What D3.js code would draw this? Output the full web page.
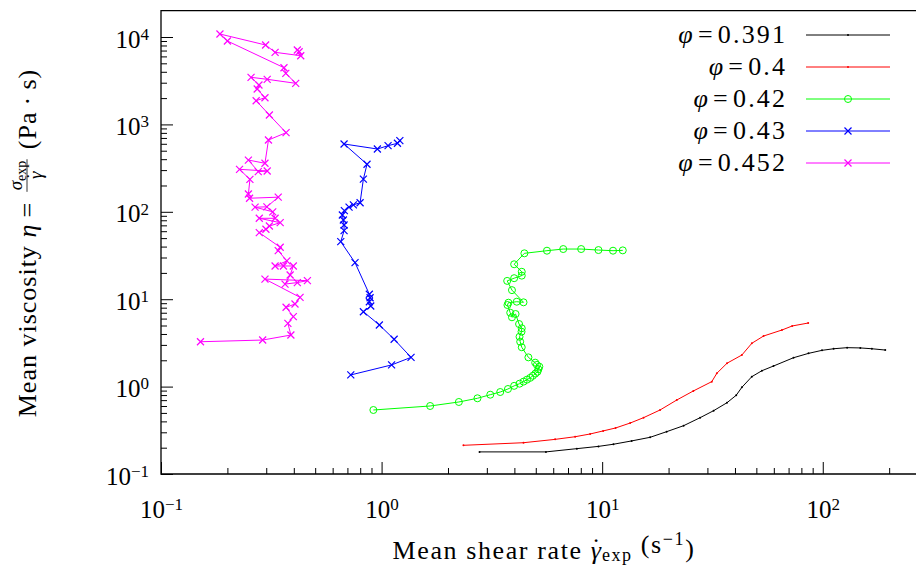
<!DOCTYPE html>
<html>
<head>
<meta charset="utf-8">
<script src="https://cdn.jsdelivr.net/npm/d3@7"></script>
<style>
  body { margin: 0; background: #fff; }
  svg { display: block; }
  svg text { font-family: "Liberation Serif", "DejaVu Serif", serif; }
</style>
</head>
<body>
<svg id="chart" width="916" height="566"></svg>
<script>
// ---- data (shear rate in 1/s, viscosity in Pa.s) ----
const rate391 = [2.78, 5.56, 7.68, 9.62, 11.25, 13.6, 16.5, 19.6, 23.4, 27.8, 32.0, 36.8, 40.5, 43.0, 47.7, 53.0, 59.8, 73.7, 86.2, 99.2, 112, 129, 148, 167, 192];
const visc391 = [0.179, 0.179, 0.195, 0.207, 0.219, 0.239, 0.263, 0.305, 0.357, 0.441, 0.530, 0.654, 0.795, 0.982, 1.30, 1.52, 1.72, 2.14, 2.40, 2.60, 2.71, 2.79, 2.77, 2.71, 2.62];

const rate40 = [2.35, 4.40, 6.12, 7.54, 8.82, 10.1, 11.5, 13.4, 15.4, 18.3, 21.8, 25.9, 31.4, 33.1, 36.8, 43.0, 47.7, 53.9, 65.3, 72.7, 85.9];
const visc40 = [0.213, 0.228, 0.249, 0.267, 0.287, 0.311, 0.336, 0.383, 0.441, 0.540, 0.703, 0.891, 1.14, 1.42, 1.85, 2.30, 3.13, 3.79, 4.44, 4.94, 5.34];

const rate42 = [0.918, 1.66, 2.24, 2.72, 3.11, 3.45, 3.74, 3.99, 4.22, 4.40, 4.56, 4.72, 4.85, 4.98, 5.09, 5.14, 5.19, 5.06, 4.97, 4.63, 4.32, 4.25, 4.22, 4.31, 4.32, 4.20, 4.05, 3.90, 3.83, 3.72, 3.76, 4.10, 4.40, 3.90, 3.71, 3.99, 4.32, 4.32, 3.99, 4.44, 5.62, 6.66, 8.03, 9.62, 11.2, 12.4];
const visc42 = [0.540, 0.600, 0.667, 0.735, 0.808, 0.867, 0.939, 1.02, 1.08, 1.14, 1.20, 1.26, 1.33, 1.41, 1.48, 1.58, 1.69, 1.77, 1.88, 2.16, 2.82, 3.26, 3.72, 4.25, 4.65, 5.20, 6.77, 6.21, 7.01, 8.58, 9.12, 9.36, 9.21, 12.7, 16.2, 17.4, 18.6, 20.6, 25.1, 33.5, 35.9, 37.5, 37.5, 36.5, 35.9, 36.2];

const rate43 = [0.725, 1.11, 1.36, 1.14, 0.977, 0.827, 0.893, 0.880, 0.887, 0.880, 0.758, 0.653, 0.676, 0.676, 0.671, 0.664, 0.678, 0.712, 0.745, 0.799, 0.827, 0.859, 0.676, 0.957, 1.07, 1.18, 1.21];
const visc43 = [1.36, 1.77, 2.16, 3.48, 5.07, 7.19, 8.36, 9.36, 10.4, 11.4, 26.2, 45.5, 60.8, 70.6, 80.6, 91.9, 103, 113, 120, 127, 237, 350, 597, 523, 571, 608, 651];

const rate452 = [0.151, 0.289, 0.388, 0.376, 0.398, 0.369, 0.405, 0.427, 0.296, 0.461, 0.415, 0.365, 0.385, 0.398, 0.359, 0.329, 0.372, 0.340, 0.347, 0.279, 0.299, 0.310, 0.347, 0.279, 0.329, 0.321, 0.267, 0.302, 0.340, 0.252, 0.249, 0.253, 0.227, 0.303, 0.276, 0.249, 0.296, 0.307, 0.369, 0.310, 0.270, 0.296, 0.273, 0.278, 0.256, 0.303, 0.408, 0.368, 0.361, 0.200, 0.185, 0.298, 0.329, 0.430, 0.423, 0.415];
const visc452 = [3.26, 3.41, 3.89, 5.30, 6.31, 8.08, 8.81, 10.5, 17.0, 16.3, 15.5, 14.9, 18.9, 24.0, 24.0, 24.0, 27.4, 35.9, 39.3, 57.7, 63.1, 68.8, 75.1, 84.3, 84.3, 100, 113, 114, 147, 143, 160, 235, 306, 293, 288, 391, 359, 663, 804, 1281, 1867, 2021, 2541, 2823, 3458, 3281, 2953, 3843, 4454, 9000, 10820, 8101, 6680, 6109, 6786, 7098];

const phiLabels = ["0.391", "0.4", "0.42", "0.43", "0.452"];
const seriesColors = ["#000000", "#ff0000", "#00ff00", "#0000ff", "#ff00ff"];
const seriesMarkers = ["dot", "dot", "circle", "cross", "cross"];

const xMajor = [0.1, 1, 10, 100];
const yMajor = [0.1, 1, 10, 100, 1000, 10000];

(function drawChart() {
  const svg = d3.select("#chart");
  const plotLeft = 161, plotTop = 10.7, plotBottom = 474, plotRight = 928;

  const x = d3.scaleLog().domain([0.1, 300]).range([plotLeft, plotRight]);
  const y = d3.scaleLog().domain([0.1, 2e4]).range([plotBottom, plotTop]);

  const series = [
    [rate391, visc391], [rate40, visc40], [rate42, visc42], [rate43, visc43], [rate452, visc452]
  ].map((s, i) => ({
    label: phiLabels[i],
    color: seriesColors[i],
    marker: seriesMarkers[i],
    points: s[0].map((r, j) => ({ x: r, y: s[1][j] }))
  }));

  function minorTicks(scale) {
    const [a, b] = scale.domain();
    const out = [];
    for (let e = Math.floor(Math.log10(a)); e <= Math.ceil(Math.log10(b)); e++) {
      for (let m = 2; m <= 9; m++) {
        const v = m * Math.pow(10, e);
        if (v > a && v < b) out.push(v);
      }
    }
    return out;
  }

  function powerLabel(sel) {
    sel.each(function(d) {
      const t = d3.select(this);
      const e = Math.round(Math.log10(d));
      t.text(null);
      t.append("tspan").text("10");
      t.append("tspan").attr("dy", "-0.45em").style("font-size", "17px")
        .text(e < 0 ? "\u2212" + (-e) : e);
    });
  }

  // axes: minor ticks first, then major ticks with labels
  const gx = svg.append("g").attr("transform", `translate(0,${plotBottom})`);
  gx.append("g").call(d3.axisBottom(x).tickValues(minorTicks(x)).tickSize(-6).tickFormat(""));
  const gxMajor = gx.append("g").call(d3.axisBottom(x).tickValues(xMajor).tickSize(-12));

  const gy = svg.append("g").attr("transform", `translate(${plotLeft},0)`);
  gy.append("g").call(d3.axisLeft(y).tickValues(minorTicks(y)).tickSize(-6).tickFormat(""));
  const gyMajor = gy.append("g").call(d3.axisLeft(y).tickValues(yMajor).tickSize(-12).tickPadding(12));

  svg.selectAll(".domain").remove();
  gx.select("g").selectAll("text").remove();
  gy.select("g").selectAll("text").remove();
  svg.selectAll("g").attr("font-family", null).attr("font-size", null);
  svg.selectAll(".tick line").attr("stroke", "#000").attr("stroke-width", 1);

  [gxMajor, gyMajor].forEach(g => g.selectAll(".tick text")
    .style("font-size", "25px")
    .style("font-family", "'Liberation Serif', serif")
    .attr("fill", "#000")
    .call(powerLabel));
  gxMajor.selectAll(".tick text").attr("y", 44).attr("dy", 0);
  gyMajor.selectAll(".tick text").attr("dy", "0.4em");

  // frame
  svg.append("path")
    .attr("d", `M${plotLeft},${plotBottom}V${plotTop}H${plotRight}V${plotBottom}Z`)
    .attr("fill", "none").attr("stroke", "#000").attr("stroke-width", 1.3);

  // series
  const line = d3.line().x(d => x(d.x)).y(d => y(d.y));
  const plot = svg.append("g");

  function drawMarker(g, type, color) {
    if (type === "circle") {
      g.append("circle").attr("r", 3.5).attr("fill", "none").attr("stroke", color).attr("stroke-width", 1);
    } else if (type === "cross") {
      g.append("path").attr("d", "M-3.5,-3.5L3.5,3.5M-3.5,3.5L3.5,-3.5")
        .attr("stroke", color).attr("stroke-width", 1.2).attr("fill", "none");
    } else {
      g.append("circle").attr("r", 1).attr("fill", color);
    }
  }

  series.forEach(s => {
    plot.append("path").datum(s.points)
      .attr("d", line).attr("fill", "none")
      .attr("stroke", s.color).attr("stroke-width", 1);
    plot.selectAll(null).data(s.points).enter().append("g")
      .attr("transform", d => `translate(${x(d.x)},${y(d.y)})`)
      .each(function() { drawMarker(d3.select(this), s.marker, s.color); });
  });

  // legend
  const legend = svg.append("g");
  series.forEach((s, i) => {
    const ry = 35 + i * 32;
    const t = legend.append("text").attr("x", 785).attr("y", ry + 8)
      .attr("text-anchor", "end").style("font-size", "26px");
    t.append("tspan").style("font-style", "italic").text("\u03c6");
    t.append("tspan").text("\u2009=\u2009" + s.label.split("").join("\u200a"));
    legend.append("line").attr("x1", 806).attr("x2", 890).attr("y1", ry).attr("y2", ry)
      .attr("stroke", s.color).attr("stroke-width", 1);
    const mg = legend.append("g").attr("transform", `translate(848,${ry})`);
    drawMarker(mg, s.marker, s.color);
  });

  // gamma with an overdot, as two tspans
  function gammaDot(t, size) {
    t.append("tspan").style("font-style", "italic").text("\u03b3");
    t.append("tspan").attr("dx", -0.42 * size).attr("dy", -0.12 * size).text("\u02d9");
    t.append("tspan").attr("dx", 0.1 * size).attr("dy", 0.12 * size).text("");
  }

  // x axis title
  const xt = svg.append("text").attr("x", 544).attr("y", 559)
    .attr("text-anchor", "middle").style("font-size", "26px").style("letter-spacing", "1.6px");
  xt.append("tspan").text("Mean shear rate ");
  gammaDot(xt, 26);
  xt.append("tspan").attr("dy", "0.3em").style("font-size", "18px").text("exp");
  xt.append("tspan").attr("dy", "-0.3em").text(" (s");
  xt.append("tspan").attr("dy", "-0.45em").style("font-size", "18px").text("\u22121");
  xt.append("tspan").attr("dy", "0.45em").text(")");

  // y axis title (rotated, with a fraction)
  const yg = svg.append("g");
  const t1 = yg.append("text").attr("x", 0).attr("y", 9)
    .style("font-size", "26px").style("letter-spacing", "1px");
  t1.append("tspan").text("Mean viscosity ");
  t1.append("tspan").style("font-style", "italic").text("\u03b7");
  t1.append("tspan").text("\u2009=");
  const w1 = t1.node().getComputedTextLength();

  const num = yg.append("text").attr("y", -5).attr("text-anchor", "middle").style("font-size", "19px");
  num.append("tspan").style("font-style", "italic").text("\u03c3");
  num.append("tspan").attr("dy", "0.3em").style("font-size", "14px").text("exp");
  const den = yg.append("text").attr("y", 15).attr("text-anchor", "middle").style("font-size", "19px");
  gammaDot(den, 19);
  const fw = Math.max(num.node().getComputedTextLength(), den.node().getComputedTextLength()) + 3;
  const fc = w1 + 10 + fw / 2;
  num.attr("x", fc);
  den.attr("x", fc);
  yg.append("line").attr("x1", fc - fw / 2).attr("x2", fc + fw / 2).attr("y1", 0).attr("y2", 0)
    .attr("stroke", "#000").attr("stroke-width", 0.8);
  const t2 = yg.append("text").attr("x", fc + fw / 2 + 10).attr("y", 9)
    .style("font-size", "26px").style("letter-spacing", "1px");
  t2.text("(Pa\u2009\u00b7\u2009s)");
  const total = fc + fw / 2 + 10 + t2.node().getComputedTextLength();
  yg.attr("transform", `translate(27,${243 + total / 2}) rotate(-90)`);
})();
</script>
</body>
</html>
